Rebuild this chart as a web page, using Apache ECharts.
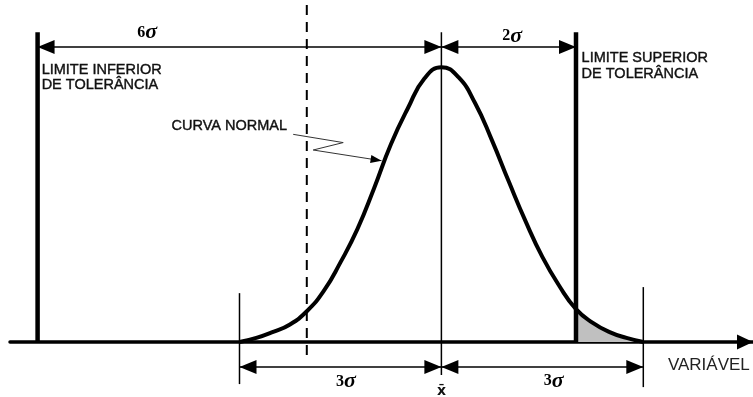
<!DOCTYPE html>
<html>
<head>
<meta charset="utf-8">
<script src="https://cdn.jsdelivr.net/npm/echarts@6/dist/echarts.min.js"></script>
<style>
  html, body { margin: 0; padding: 0; background: #ffffff; }
  #chart { width: 753px; height: 397px; }
</style>
</head>
<body>
<div id="chart"></div>
<script>
// Normal curve, in standard deviations (sigma) from the process mean
const curveSigma  = [-3, -2.75, -2.5, -2.25, -2, -1.75, -1.5, -1.25, -1, -0.75, -0.5, -0.25, 0,
                     0.25, 0.5, 0.75, 1, 1.25, 1.5, 1.75, 2, 2.25, 2.5, 2.75, 3];
const curveHeight = [0, 0.015, 0.037, 0.064, 0.112, 0.185, 0.29, 0.41, 0.56, 0.72, 0.85, 0.96, 1.0,
                     0.965, 0.87, 0.735, 0.585, 0.44, 0.31, 0.205, 0.12, 0.07, 0.036, 0.015, 0];

// Reference positions, in sigma from the mean
const lowerLimitSigma = -6;
const upperLimitSigma = 2;
const spreadSigma = [-3, 3];
const meanSigma = 0;
const dashedSigma = -2;

// Texts
const lowerLimitText = ['LIMITE INFERIOR', 'DE TOLERÂNCIA'];
const upperLimitText = ['LIMITE SUPERIOR', 'DE TOLERÂNCIA'];
const curveText = 'CURVA NORMAL';
const axisText = 'VARIÁVEL';
const meanText = 'x\u0304';
const spanTexts = ['6', '2', '3', '3'];
const sigmaSymbol = 'σ';

// ---- drawing ----
const SANS = '"Liberation Sans", Arial, sans-serif';
const SERIF = '"Liberation Serif", "Times New Roman", serif';
const INK = '#000000';

const curveData = curveSigma.map((u, i) => [u, curveHeight[i]]);
const tailData = curveData.filter(p => p[0] >= upperLimitSigma && p[0] <= spreadSigma[1]);

// vertical layout (heights in curve units)
const limitTop = 1.128, dimTop = 1.074, dimBottom = -0.091;

function vline(u, top, bottom, width, type) {
  return {
    type: 'line', data: [[u, top], [u, bottom]], symbol: 'none', silent: true,
    lineStyle: { color: INK, width: width, type: type || 'solid' }, z: 3
  };
}

// arrowheads: [from, to] pairs, tip at "to"
const arrowDefs = [
  { from: [meanSigma, dimTop], to: [lowerLimitSigma, dimTop], len: 17, half: 7 },
  { from: [lowerLimitSigma, dimTop], to: [meanSigma, dimTop], len: 17, half: 7 },
  { from: [upperLimitSigma, dimTop], to: [meanSigma, dimTop], len: 17, half: 7 },
  { from: [meanSigma, dimTop], to: [upperLimitSigma, dimTop], len: 17, half: 7 },
  { from: [meanSigma, dimBottom], to: [spreadSigma[0], dimBottom], len: 17, half: 7 },
  { from: [spreadSigma[0], dimBottom], to: [meanSigma, dimBottom], len: 17, half: 7 },
  { from: [spreadSigma[1], dimBottom], to: [meanSigma, dimBottom], len: 17, half: 7 },
  { from: [meanSigma, dimBottom], to: [spreadSigma[1], dimBottom], len: 17, half: 7 },
  { from: [0, 0], to: [4.63, 0], len: 16, half: 7.5 },
  { from: [-1.905, 0.699], to: [-0.889, 0.660], len: 11, half: 4 }
];

const sigmaRich = {
  d: { font: 'bold 16px ' + SERIF, fill: INK },
  s: { font: 'italic bold 22px ' + SERIF, fill: INK }
};
const labels = [
  { u: -5.94, h: 0.991, text: lowerLimitText[0], font: '14.5px ' + SANS, align: 'left', heavy: true },
  { u: -5.94, h: 0.936, text: lowerLimitText[1], font: '14.5px ' + SANS, align: 'left', heavy: true },
  { u: 2.083, h: 1.033, text: upperLimitText[0], font: '14.5px ' + SANS, align: 'left', heavy: true },
  { u: 2.083, h: 0.975, text: upperLimitText[1], font: '14.5px ' + SANS, align: 'left', heavy: true },
  { u: -4.01, h: 0.786, text: curveText, font: '14.5px ' + SANS, align: 'left', heavy: true },
  { u: 3.366, h: -0.084, text: axisText, font: '17px ' + SANS, align: 'left', color: '#222' },
  { u: meanSigma, h: -0.178, text: meanText, font: 'bold 14px "DejaVu Sans", sans-serif', align: 'center' },
  { u: -4.37, h: 1.127, text: '{d|' + spanTexts[0] + '}{s|' + sigmaSymbol + '}', rich: true, align: 'center' },
  { u: 1.05, h: 1.114, text: '{d|' + spanTexts[1] + '}{s|' + sigmaSymbol + '}', rich: true, align: 'center' },
  { u: -1.42, h: -0.144, text: '{d|' + spanTexts[2] + '}{s|' + sigmaSymbol + '}', rich: true, align: 'center' },
  { u: 1.67, h: -0.142, text: '{d|' + spanTexts[3] + '}{s|' + sigmaSymbol + '}', rich: true, align: 'center' }
];

const chart = echarts.init(document.getElementById('chart'), null, { renderer: 'canvas' });

chart.setOption({
  animation: false,
  backgroundColor: '#ffffff',
  grid: { left: 10, right: 0, top: 0, bottom: 0 },
  xAxis: {
    type: 'value', min: -6.41, max: 4.63,
    axisLine: { show: true, onZero: true, lineStyle: { color: INK, width: 3.5 } },
    axisTick: { show: false }, axisLabel: { show: false }, splitLine: { show: false }
  },
  yAxis: { type: 'value', min: -0.2, max: 1.245, show: false, splitLine: { show: false } },
  series: [
    // shaded tail beyond the upper tolerance limit
    {
      type: 'line', data: tailData, smooth: true, symbol: 'none', silent: true,
      lineStyle: { width: 0 }, areaStyle: { color: '#c0c0c0', opacity: 1 }, z: 1
    },
    vline(lowerLimitSigma, limitTop, 0, 4.5),
    vline(upperLimitSigma, limitTop, 0, 4.5),
    vline(meanSigma, limitTop, -0.12, 1.5),
    vline(spreadSigma[0], 0.178, -0.153, 1.5),
    vline(spreadSigma[1], 0.2, -0.164, 1.5),
    vline(dashedSigma, 1.227, -0.058, 2, [10, 7]),
    // dimension lines
    { type: 'line', data: [[lowerLimitSigma, dimTop], [upperLimitSigma, dimTop]], symbol: 'none', silent: true,
      lineStyle: { color: INK, width: 1.5 }, z: 3 },
    { type: 'line', data: [[spreadSigma[0], dimBottom], [spreadSigma[1], dimBottom]], symbol: 'none', silent: true,
      lineStyle: { color: INK, width: 1.5 }, z: 3 },
    // leader from the curve label
    { type: 'line', data: [[-2.202, 0.756], [-1.459, 0.726], [-1.905, 0.699], [-0.889, 0.660]],
      symbol: 'none', silent: true, lineStyle: { color: '#333', width: 1 }, z: 3 },
    // the normal curve
    {
      type: 'line', data: curveData, smooth: true, symbol: 'none', silent: true,
      lineStyle: { color: INK, width: 4 }, z: 4
    },
    // arrowheads
    {
      type: 'custom', silent: true, z: 5,
      data: arrowDefs.map(a => [a.to[0], a.to[1]]),
      renderItem: function (params, api) {
        const a = arrowDefs[params.dataIndex];
        const p = api.coord(a.to);
        const q = api.coord(a.from);
        let dx = p[0] - q[0], dy = p[1] - q[1];
        const n = Math.hypot(dx, dy) || 1;
        dx /= n; dy /= n;
        const bx = p[0] - dx * a.len, by = p[1] - dy * a.len;
        return {
          type: 'polygon',
          shape: { points: [p, [bx - dy * a.half, by + dx * a.half], [bx + dy * a.half, by - dx * a.half]] },
          style: { fill: INK }
        };
      }
    },
    // texts
    {
      type: 'custom', silent: true, z: 6,
      data: labels.map(l => [l.u, l.h]),
      renderItem: function (params, api) {
        const l = labels[params.dataIndex];
        const p = api.coord([api.value(0), api.value(1)]);
        const style = {
          text: l.text, align: l.align, verticalAlign: 'middle',
          fill: l.color || '#111'
        };
        if (l.rich) style.rich = sigmaRich; else style.font = l.font;
        if (l.heavy) { style.stroke = '#111'; style.lineWidth = 0.4; }
        return { type: 'text', x: p[0], y: p[1], style: style };
      }
    }
  ]
});
</script>
</body>
</html>
